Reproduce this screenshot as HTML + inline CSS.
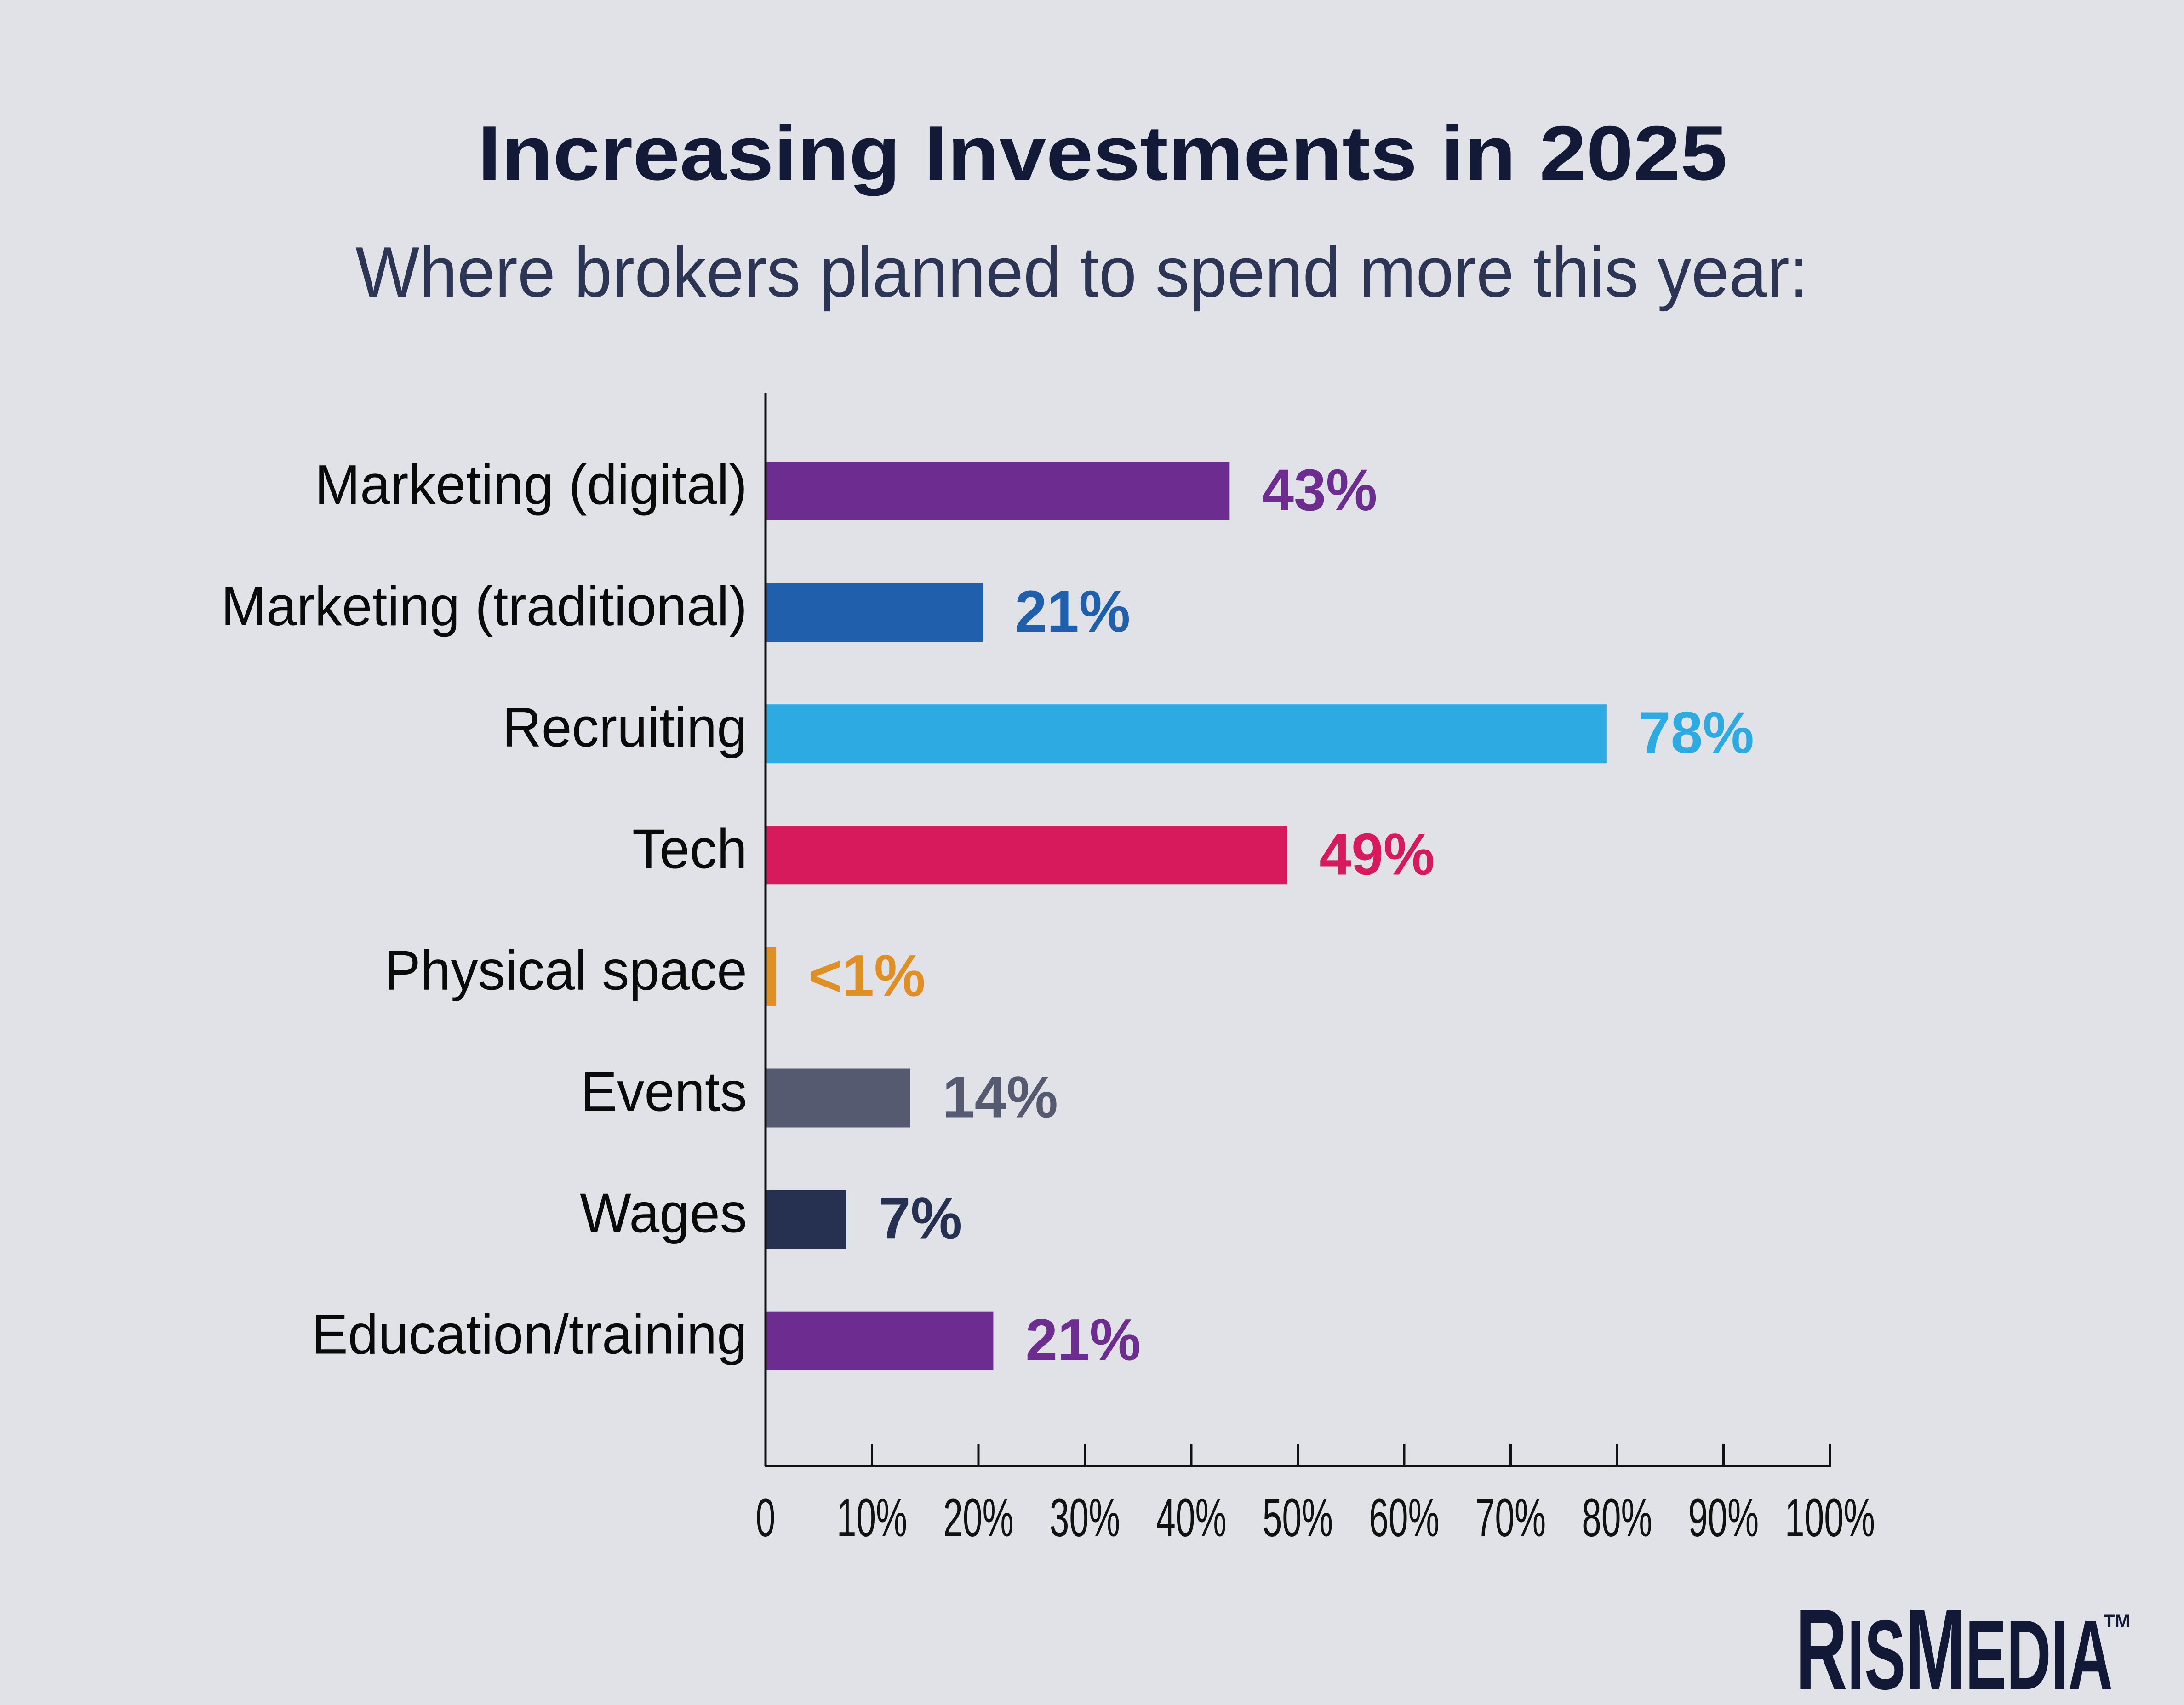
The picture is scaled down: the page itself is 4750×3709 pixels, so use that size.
<!DOCTYPE html>
<html><head><meta charset="utf-8"><style>
html,body{margin:0;padding:0;background:#e1e2e7;}
svg{display:block;font-family:"Liberation Sans",sans-serif;}
</style></head><body>
<svg id="chart" width="4750" height="3709" viewBox="0 0 4750 3709" xmlns="http://www.w3.org/2000/svg">
<rect width="4750" height="3709" fill="#e1e2e7"/>
<text x="2398" y="391" text-anchor="middle" font-size="168" font-weight="bold" fill="#131a38" textLength="2718" lengthAdjust="spacingAndGlyphs">Increasing Investments in 2025</text>
<text x="2353" y="645" text-anchor="middle" font-size="155" fill="#2d3555" textLength="3160" lengthAdjust="spacingAndGlyphs">Where brokers planned to spend more this year:</text>
<g id="plot"></g>
<g fill="#111936" font-weight="bold">
<text x="3905" y="3674" font-size="250" textLength="690" lengthAdjust="spacingAndGlyphs">R<tspan font-size="215">IS</tspan>M<tspan font-size="215">EDIA</tspan></text>
<text x="4575" y="3540" font-size="40">TM</text>
</g>
</svg>
<script>
const categories=["Marketing (digital)","Marketing (traditional)","Recruiting","Tech","Physical space","Events","Wages","Education/training"];
const values=[43.6,20.4,79.0,49.0,1.0,13.6,7.6,21.4];
const valueLabels=["43%","21%","78%","49%","<1%","14%","7%","21%"];
const colors=["#6d2c8f","#1f5fab","#2eaae2","#d61a5c","#e08f24","#555a70","#263152","#6d2c8f"];
const ticks=[0,10,20,30,40,50,60,70,80,90,100];
const tickLabels=["0","10%","20%","30%","40%","50%","60%","70%","80%","90%","100%"];

const NS="http://www.w3.org/2000/svg";
const g=document.getElementById('plot');
const x0=1665,pxPer=231.5,y0=1068,step=264.1,barH=128,axisTop=854,axisBot=3189;
const xs=v=>x0+v*pxPer/10;
const ys=i=>y0+i*step;
function mk(t,a){const e=document.createElementNS(NS,t);for(const k in a)e.setAttribute(k,a[k]);g.appendChild(e);return e;}

categories.forEach((c,i)=>{
  const b=mk('rect',{x:x0,y:ys(i)-barH/2,width:xs(values[i])-x0,height:barH,fill:colors[i]});
  
  
  const l=mk('text',{x:(x0-40)/0.97,y:ys(i)+28,'text-anchor':'end','font-size':122,fill:'#0a0a0a',transform:'scale(0.97,1)'});
  l.textContent=c;
  
  
  const v=mk('text',{x:(xs(values[i])+70)/0.98,y:ys(i)+42,'font-size':128,'font-weight':'bold',fill:colors[i],transform:'scale(0.98,1)'});
  v.textContent=valueLabels[i];
  
  
});
const ya=mk('line',{x1:x0,y1:axisTop,x2:x0,y2:axisBot,stroke:'#111',"stroke-width":5});


const xa=mk('line',{x1:x0-2,y1:axisBot,x2:xs(100)+2,y2:axisBot,stroke:'#111',"stroke-width":6});


ticks.forEach((t,i)=>{
  const tk=mk('line',{x1:xs(t),y1:axisBot-48,x2:xs(t),y2:axisBot,stroke:'#111',"stroke-width":5});
  
  
  const tl=mk('text',{x:xs(t)/0.65,y:3342,'text-anchor':'middle','font-size':118,fill:'#111',transform:'scale(0.65,1)'});
  tl.textContent=tickLabels[i];
  
  
});
</script>
</body></html>
